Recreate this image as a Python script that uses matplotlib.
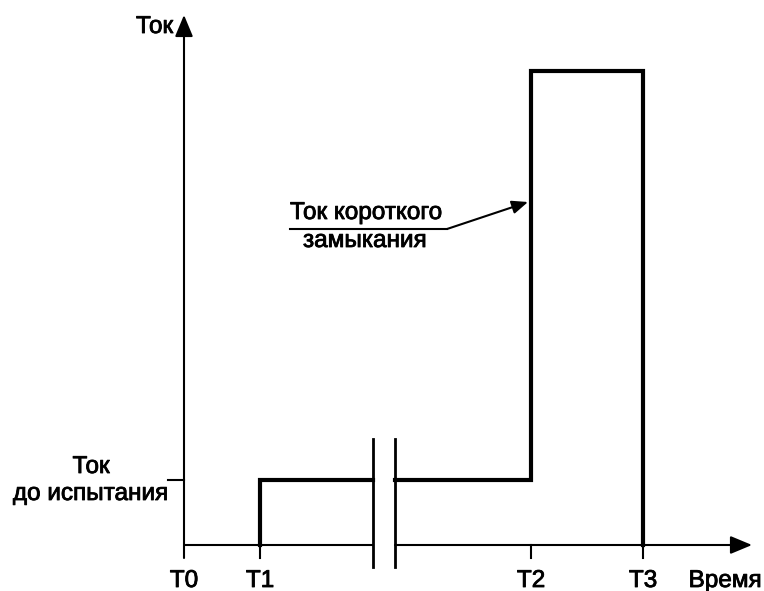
import matplotlib
matplotlib.use('Agg')
import matplotlib.pyplot as plt
import matplotlib.patheffects as pe

plt.rcParams['font.family'] = ['Liberation Sans', 'DejaVu Sans']

# моменты времени и уровни тока (условные единицы)
t_names = ['T0', 'T1', 'T2', 'T3']
t_vals = [0, 76, 347, 459]
break_t = [189, 211]          # разрыв оси времени
I_pre = 65                    # ток до испытания
I_sc = 474                    # ток короткого замыкания
t_end = 568                   # конец оси времени
I_end = 530                   # конец оси тока

fig = plt.figure(figsize=(7.64, 5.91), dpi=100)
ax = fig.add_axes([0, 0, 1, 1])
ax.set_xlim(-184, 580)
ax.set_ylim(-46, 545)
ax.axis('off')

thin = 1.5
thick = 3.0
head = '-|>,head_length=0.6,head_width=0.25'

# оси
ax.plot([0, break_t[0]], [0, 0], color='k', lw=thin, solid_capstyle='butt')
ax.annotate('', xy=(t_end, 0), xytext=(break_t[1], 0), annotation_clip=False,
            arrowprops=dict(arrowstyle=head, lw=thin, color='k',
                            mutation_scale=22, shrinkA=0, shrinkB=0))
ax.annotate('', xy=(0, I_end), xytext=(0, -13), annotation_clip=False,
            arrowprops=dict(arrowstyle=head, lw=thin, color='k',
                            mutation_scale=22, shrinkA=0, shrinkB=0))

# засечки
for t in t_vals[1:]:
    ax.plot([t, t], [0, -13], color='k', lw=thin)
ax.plot([-16, 0], [I_pre, I_pre], color='k', lw=thin)

# ток
ax.plot([t_vals[1], t_vals[1], break_t[0]], [0, I_pre, I_pre],
        color='k', lw=thick, solid_joinstyle='miter')
ax.plot([break_t[1], t_vals[2], t_vals[2], t_vals[3], t_vals[3]],
        [I_pre, I_pre, I_sc, I_sc, 0],
        color='k', lw=thick, solid_joinstyle='miter')

# знак разрыва
for t in break_t:
    ax.plot([t, t], [-22, 106], color='k', lw=2.0)

# подписи
fs = 17.5
heavy = [pe.withStroke(linewidth=0.6, foreground='k')]
def label(x, y, s, ha):
    ax.text(x, y, s, ha=ha, va='baseline', fontsize=fs, path_effects=heavy)

for name, t in zip(t_names, t_vals):
    label(t, -42, name, 'center')
label(541, -42, 'Время', 'center')
label(-11, 512, 'Ток', 'right')
label(-93, 72, 'Ток', 'center')
label(-17, 45, 'до испытания', 'right')

label(106, 326, 'Ток короткого', 'left')
label(119, 298, 'замыкания', 'left')
ax.plot([106, 263], [316, 316], color='k', lw=thin)
ax.annotate('', xy=(344, 343), xytext=(263, 316),
            arrowprops=dict(arrowstyle=head, lw=thin, color='k',
                            mutation_scale=16, shrinkA=0, shrinkB=0))

fig.savefig('out.png', dpi=100, facecolor='white')
